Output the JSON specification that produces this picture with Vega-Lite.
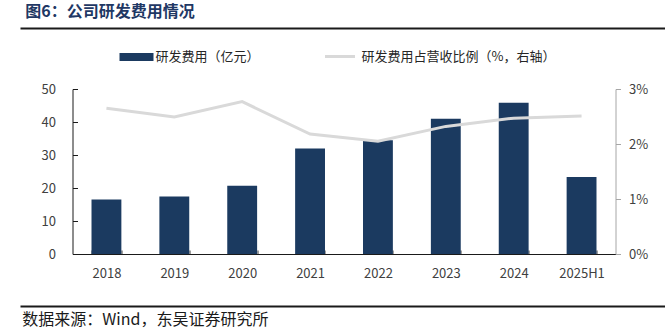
{
  "$schema": "https://vega.github.io/schema/vega-lite/v6.json",
  "padding": {"left": 17, "top": 4, "right": 0, "bottom": 0},
  "background": "white",
  "bounds": "flush",
  "center": true,
  "spacing": 52,
  "resolve": {"legend": {"fill": "independent", "stroke": "independent"}},
  "config": {
    "view": {"stroke": null},
    "font": "Noto Sans CJK SC",
    "axis": {"labelFont": "Noto Sans CJK SC", "labelFontSize": 13, "labelColor": "#404040", "grid": false, "title": null}
  },
  "vconcat": [
    {
      "width": 648,
      "height": 9,
      "title": {"text": "图6：公司研发费用情况", "anchor": "start", "orient": "top", "font": "Noto Sans CJK SC", "fontSize": 16, "fontWeight": "bold", "color": "#1f3864", "dx": 8, "offset": 8},
      "data": {"values": [{"v": 0}, {"v": 1}]},
      "mark": {"type": "point", "opacity": 0},
      "encoding": {
        "x": {"field": "v", "type": "quantitative", "scale": {"domain": [0, 1], "nice": false},
              "axis": {"orient": "top", "labels": false, "ticks": false, "grid": false, "title": null, "domainColor": "#1a1a1a", "domainWidth": 2}}
      }
    },
    {
      "width": 543,
      "height": 165,
      "data": {"values": [
        {"year": "2018", "rd": 16.5, "ratio": 2.65},
        {"year": "2019", "rd": 17.4, "ratio": 2.49},
        {"year": "2020", "rd": 20.7, "ratio": 2.77},
        {"year": "2021", "rd": 32.0, "ratio": 2.18},
        {"year": "2022", "rd": 34.5, "ratio": 2.05},
        {"year": "2023", "rd": 41.0, "ratio": 2.32},
        {"year": "2024", "rd": 45.8, "ratio": 2.47},
        {"year": "2025H1", "rd": 23.3, "ratio": 2.51}
      ]},
      "encoding": {
        "x": {"field": "year", "type": "nominal", "sort": null,
              "scale": {"paddingInner": 0.56, "paddingOuter": 0.28},
              "axis": {"labelAngle": 0, "tickBand": "extent", "tickSize": -4, "tickColor": "#404040", "domainColor": "#1a1a1a", "labelPadding": 17}}
      },
      "layer": [
        {
          "mark": {"type": "bar", "cornerRadius": 0},
          "encoding": {
            "y": {"field": "rd", "type": "quantitative", "scale": {"domain": [0, 50], "nice": false},
                  "axis": {"orient": "left", "values": [0, 10, 20, 30, 40, 50], "tickSize": -5, "labelPadding": 22, "tickColor": "#1a1a1a", "domainColor": "#1a1a1a"}},
            "fill": {"datum": "研发费用（亿元）", "type": "nominal", "scale": {"range": ["#1b3a60"]},
                     "legend": {"orient": "none", "legendX": 47, "legendY": -49, "title": null, "padding": 0,
                                "symbolType": "M-1,-0.235H1V0.235H-1Z", "symbolSize": 1156, "symbolStrokeWidth": 0,
                                "labelFont": "Noto Sans CJK SC", "labelFontSize": 13, "labelColor": "#262626", "labelOffset": 2, "labelLimit": 300}}
          }
        },
        {
          "mark": {"type": "line", "strokeWidth": 3},
          "encoding": {
            "y": {"field": "ratio", "type": "quantitative", "scale": {"domain": [0, 3], "nice": false},
                  "axis": {"orient": "right", "values": [0, 1, 2, 3], "labelExpr": "datum.value + '%'", "tickSize": 5, "labelPadding": 8, "tickColor": "#a6a6a6", "domainColor": "#a6a6a6"}},
            "stroke": {"datum": "研发费用占营收比例（%，右轴）", "type": "nominal", "scale": {"range": ["#d9d9d9"]},
                       "legend": {"orient": "none", "legendX": 251, "legendY": -49, "title": null, "padding": 0,
                                  "symbolType": "stroke", "symbolSize": 900, "symbolStrokeWidth": 3,
                                  "labelFont": "Noto Sans CJK SC", "labelFontSize": 13, "labelColor": "#262626", "labelOffset": 5, "labelLimit": 300}}
          }
        }
      ],
      "resolve": {"scale": {"y": "independent"}}
    },
    {
      "width": 648,
      "height": 1,
      "title": {"text": "数据来源：Wind，东吴证券研究所", "anchor": "start", "orient": "bottom", "font": "Noto Sans CJK SC", "fontSize": 16, "fontWeight": "normal", "color": "#1a1a1a", "dx": 5, "offset": 3},
      "data": {"values": [{"v": 0}, {"v": 1}]},
      "mark": {"type": "point", "opacity": 0},
      "encoding": {
        "x": {"field": "v", "type": "quantitative", "scale": {"domain": [0, 1], "nice": false},
              "axis": {"orient": "top", "labels": false, "ticks": false, "grid": false, "title": null, "domainColor": "#1a1a1a", "domainWidth": 2}}
      }
    }
  ]
}
